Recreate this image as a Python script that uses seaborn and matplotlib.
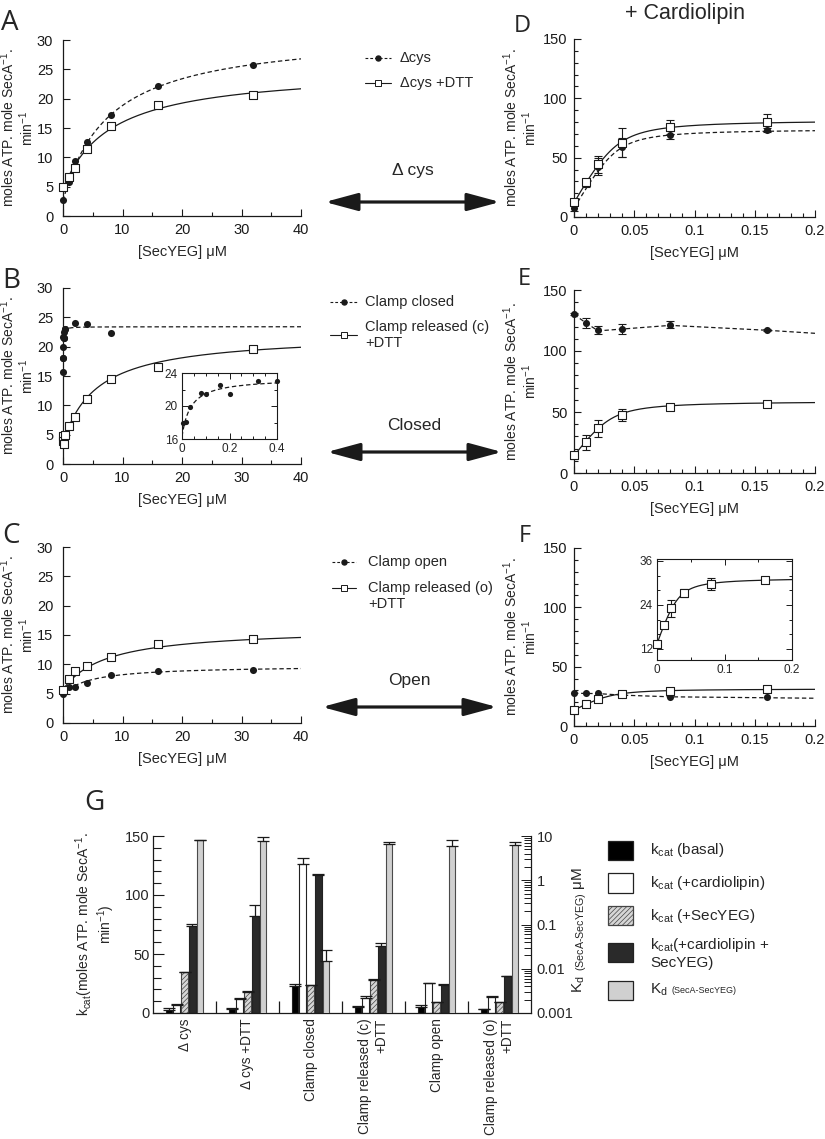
import numpy as np
import pandas as pd
import matplotlib
matplotlib.use("Agg")
import matplotlib.pyplot as plt
import seaborn as sns
from matplotlib.ticker import MultipleLocator, FixedLocator, LogLocator, NullFormatter, FuncFormatter
from matplotlib.patches import FancyArrowPatch, Rectangle, ArrowStyle
from matplotlib.lines import Line2D

# ---------------- data ----------------
# Panel A
a_x = [0, 1, 2, 4, 8, 16, 32]
a_cys_y = [2.7, 5.8, 9.3, 12.6, 17.2, 22.1, 25.8]
a_dtt_y = [5.0, 6.6, 8.2, 11.5, 15.4, 18.9, 20.6]
a_cys_fit = [2.6, 28.9, 7.8]      # v0, amplitude, Km of the hyperbolic fit
a_dtt_fit = [4.6, 20.5, 8.0]

# Panel B
b_closed_x = [0, 0.005, 0.015, 0.035, 0.08, 0.1, 0.16, 0.2, 0.32, 0.4, 2, 4, 8]
b_closed_y = [15.6, 18.0, 18.1, 19.9, 21.6, 21.4, 22.5, 21.4, 23.0, 23.0, 24.1, 23.9, 22.4]
b_rel_x = [0, 0.05, 0.1, 0.4, 1, 2, 4, 8, 16, 32]
b_rel_y = [4.7, 4.0, 3.4, 5.0, 6.4, 8.0, 11.0, 14.5, 16.6, 19.6]
b_closed_fit = [16.3, 7.1, 0.037]
b_rel_fit = [3.6, 18.6, 5.65]

# Panel C
c_x = [0, 1, 2, 4, 8, 16, 32]
c_open_y = [4.9, 6.1, 6.1, 6.8, 8.1, 8.9, 9.0]
c_rel_y = [5.7, 7.5, 8.9, 9.7, 11.2, 13.4, 14.4]
c_open_fit = [4.9, 4.9, 4.7]
c_rel_fit = [5.7, 10.5, 7.3]

# Panel D (+ cardiolipin)
d_x = [0, 0.01, 0.02, 0.04, 0.08, 0.16]
d_cys_y = [7.3, 27.6, 42.3, 58.6, 69.1, 73.3]
d_cys_err = [2, 2, 7, 8, 3, 2]
d_dtt_y = [12.4, 29.6, 44.3, 62.6, 75.8, 79.8]
d_dtt_err = [1, 2, 7, 12, 6, 7]
d_cys_fit = [7.3, 67.0, 0.035, 0.004]   # v0, amplitude, [SecA], Kd (tight binding)
d_dtt_fit = [12.0, 70.0, 0.035, 0.005]

# Panel E
e_x = [0, 0.01, 0.02, 0.04, 0.08, 0.16]
e_closed_y = [130.2, 123.2, 117.2, 118.3, 121.5, 117.2]
e_closed_err = [1, 4, 3, 4, 3, 1]
e_rel_y = [14.4, 25.1, 36.8, 47.7, 53.7, 56.4]
e_rel_err = [3, 6, 7, 5, 1, 2]
e_closed_trace_x = [0, 0.01, 0.02, 0.04, 0.08, 0.16, 0.2]
e_closed_trace_y = [130, 123, 116.5, 118, 121, 117, 114.5]
e_rel_fit = [14.0, 45.0, 0.03, 0.005]

# Panel F
f_x = [0, 0.01, 0.02, 0.04, 0.08, 0.16]
f_open_y = [27.6, 27.6, 27.6, 25.9, 24.2, 24.5]
f_rel_y = [13.4, 18.4, 23.1, 27.2, 29.7, 30.8]
f_rel_err = [0.5, 0.6, 2.3, 1.0, 1.7, 0.9]
f_open_trace_x = [0, 0.02, 0.04, 0.08, 0.16, 0.2]
f_open_trace_y = [27.6, 27.3, 26.0, 24.6, 23.8, 23.4]
f_rel_fit = [13.4, 18.0, 0.03, 0.005]

# Panel G
g_groups = ["\u0394 cys", "\u0394 cys +DTT", "Clamp closed",
            "Clamp released (c)\n+DTT", "Clamp open", "Clamp released (o)\n+DTT"]
series_names = ["basal", "cardiolipin", "SecYEG", "cardiolipin+SecYEG", "Kd"]
kcat_basal = [2.8, 3.7, 22.9, 5.1, 5.1, 3.4]
kcat_basal_err = [1.7, 0.3, 1.4, 1.1, 1.4, 0.3]
kcat_cl = [7.0, 12.0, 126.3, 13.0, 25.5, 13.5]
kcat_cl_err = [0.9, 1.0, 5.3, 1.0, 0.3, 0.6]
kcat_sec = [34.7, 18.0, 23.4, 28.2, 9.3, 9.3]
kcat_sec_err = [0.2, 1.0, 0.2, 0.2, 0.2, 0.2]
kcat_clsec = [73.4, 82.0, 117.2, 56.5, 24.0, 31.4]
kcat_clsec_err = [2.0, 9.8, 0.2, 2.8, 0.3, 0.2]
kd = [7.96, 7.8, 0.0153, 6.5, 5.9, 6.1]
kd_err = [0.35, 1.6, 0.011, 0.7, 2.3, 1.2]

# ---------------- helpers ----------------
def hyper(x, v0, amp, km):
    x = np.asarray(x, float)
    return v0 + amp * x / (km + x)

def tight(x, v0, amp, e, k):
    x = np.asarray(x, float)
    s = e + x + k
    return v0 + amp * (s - np.sqrt(s * s - 4 * e * x)) / (2 * e)

sns.set_theme(style="ticks")
plt.rcParams["font.family"] = ["Liberation Sans", "DejaVu Sans"]
plt.rcParams["mathtext.fontset"] = "custom"
plt.rcParams["mathtext.rm"] = "Liberation Sans"
plt.rcParams["mathtext.it"] = "Liberation Sans:italic"
plt.rcParams["mathtext.bf"] = "Liberation Sans:bold"
plt.rcParams["hatch.linewidth"] = 0.5
plt.rcParams["axes.edgecolor"] = "k"

W, H = 825, 1139
fig = plt.figure(figsize=(W / 100, H / 100), dpi=100)
fig.patch.set_facecolor("white")

def add_ax(x0, y0, x1, y1):
    return fig.add_axes([x0 / W, 1 - y1 / H, (x1 - x0) / W, (y1 - y0) / H])

gfmt = FuncFormatter(lambda v, p: f"{v:g}")
DASH = (0, (3.5, 2.2))
YLAB = "moles ATP. mole SecA$^{-1}$.\nmin$^{-1}$"

def style(ax, xlim, ylim, xmaj, xmin, ymaj, ymin, ypad, labx):
    ax.set_xlim(xlim); ax.set_ylim(ylim)
    ax.spines[["top", "right"]].set_visible(False)
    ax.spines[["left", "bottom"]].set_linewidth(0.9)
    ax.xaxis.set_major_locator(MultipleLocator(xmaj))
    ax.xaxis.set_minor_locator(MultipleLocator(xmin))
    ax.yaxis.set_major_locator(MultipleLocator(ymaj))
    if ymin:
        ax.yaxis.set_minor_locator(MultipleLocator(ymin))
    else:
        ax.yaxis.set_minor_locator(FixedLocator([]))
    ax.xaxis.set_major_formatter(gfmt)
    ax.tick_params(which="both", direction="in", color="k", width=0.8, labelsize=10.5,
                   labelcolor="k", top=False, right=False, bottom=True, left=True)
    ax.tick_params(which="major", length=5)
    ax.tick_params(which="minor", length=3)
    ax.tick_params(axis="y", pad=ypad)
    ax.tick_params(axis="x", pad=5)
    ax.set_facecolor("none")
    ax.set_xlabel("[SecYEG] \u03bcM", fontsize=10.5, labelpad=6)
    ax.set_ylabel(YLAB, fontsize=10, linespacing=1.02)
    ax.yaxis.set_label_coords(labx, 0.5)

def inset_style(ax, xlim, ylim, xmaj, xmin, ymaj, ymin):
    ax.set_xlim(xlim); ax.set_ylim(ylim)
    for s in ax.spines.values():
        s.set_visible(True); s.set_linewidth(0.8); s.set_color("k")
    ax.xaxis.set_major_locator(MultipleLocator(xmaj))
    ax.xaxis.set_minor_locator(MultipleLocator(xmin))
    ax.yaxis.set_major_locator(MultipleLocator(ymaj))
    ax.yaxis.set_minor_locator(MultipleLocator(ymin))
    ax.xaxis.set_major_formatter(gfmt)
    ax.yaxis.set_major_formatter(gfmt)
    ax.tick_params(which="both", direction="in", color="k", width=0.7, labelsize=8.5,
                   top=True, right=True, bottom=True, left=True, pad=3)
    ax.tick_params(which="major", length=4)
    ax.tick_params(which="minor", length=2.5)
    ax.set_facecolor("white")
    ax.set_xlabel(""); ax.set_ylabel("")

def dots(ax, x, y, s=26):
    sns.scatterplot(x=x, y=y, ax=ax, marker="o", s=s, color="k", edgecolor="k",
                    linewidth=0, zorder=4, clip_on=False, legend=False)

def squares(ax, x, y, s=34):
    sns.scatterplot(x=x, y=y, ax=ax, marker="s", s=s, color="white", edgecolor="k",
                    linewidth=0.8, zorder=5, clip_on=False, legend=False)

def curve(ax, x, y, dashed):
    sns.lineplot(x=x, y=y, ax=ax, color="k", linewidth=0.9, linestyle=DASH if dashed else "-",
                 estimator=None, sort=False, errorbar=None, zorder=2, legend=False)

def errs(ax, x, y, e):
    ax.errorbar(x, y, yerr=e, fmt="none", ecolor="k", elinewidth=0.8, capsize=2.8,
                capthick=0.8, zorder=3, clip_on=False)

xa = np.linspace(0, 40, 400)
xb = np.concatenate([np.linspace(0, 0.6, 300), np.linspace(0.6, 40, 300)])
xs = np.linspace(0, 0.2, 400)

LABX_L = -0.115
LABX_R = -0.145

# ---------------- Panel A ----------------
axA = add_ax(63, 40, 301, 216)
curve(axA, xa, hyper(xa, *a_cys_fit), True)
curve(axA, xa, hyper(xa, *a_dtt_fit), False)
dots(axA, a_x, a_cys_y)
squares(axA, a_x, a_dtt_y)
style(axA, (0, 40), (0, 30), 10, 5, 5, None, 7, LABX_L)

# ---------------- Panel B ----------------
axB = add_ax(63, 288, 301, 464)
curve(axB, xb, hyper(xb, *b_closed_fit), True)
curve(axB, xa, hyper(xa, *b_rel_fit), False)
dots(axB, b_closed_x, b_closed_y)
squares(axB, b_rel_x, b_rel_y)
style(axB, (0, 40), (0, 30), 10, 5, 5, None, 7, LABX_L)

axBi = add_ax(182, 373, 277, 439)
xi = np.linspace(0, 0.4, 300)
curve(axBi, xi, hyper(xi, *b_closed_fit), True)
bi = [(x, y) for x, y in zip(b_closed_x, b_closed_y) if x <= 0.4 and y >= 16]
sns.scatterplot(x=[p[0] for p in bi], y=[p[1] for p in bi], ax=axBi, marker="o", s=14,
                color="k", linewidth=0, zorder=4, clip_on=False, legend=False)
inset_style(axBi, (0, 0.4), (16, 24), 0.2, 0.05, 4, 2)

# ---------------- Panel C ----------------
axC = add_ax(63, 547, 301, 723)
curve(axC, xa, hyper(xa, *c_open_fit), True)
curve(axC, xa, hyper(xa, *c_rel_fit), False)
dots(axC, c_x, c_open_y)
squares(axC, c_x, c_rel_y)
style(axC, (0, 40), (0, 30), 10, 5, 5, None, 7, LABX_L)

# ---------------- Panel D ----------------
axD = add_ax(574, 39, 815, 217)
curve(axD, xs, tight(xs, *d_cys_fit), True)
curve(axD, xs, tight(xs, *d_dtt_fit), False)
errs(axD, d_x, d_cys_y, d_cys_err)
errs(axD, d_x, d_dtt_y, d_dtt_err)
dots(axD, d_x, d_cys_y)
squares(axD, d_x, d_dtt_y)
style(axD, (0, 0.2), (0, 150), 0.05, 0.01, 50, 10, 4.5, LABX_R)

# ---------------- Panel E ----------------
axE = add_ax(574, 290, 815, 473)
curve(axE, e_closed_trace_x, e_closed_trace_y, True)
curve(axE, xs, tight(xs, *e_rel_fit), False)
errs(axE, e_x, e_closed_y, e_closed_err)
errs(axE, e_x, e_rel_y, e_rel_err)
dots(axE, e_x, e_closed_y)
squares(axE, e_x, e_rel_y)
style(axE, (0, 0.2), (0, 150), 0.05, 0.01, 50, 10, 4.5, LABX_R)

# ---------------- Panel F ----------------
axF = add_ax(574, 548, 815, 726)
curve(axF, f_open_trace_x, f_open_trace_y, True)
curve(axF, xs, tight(xs, *f_rel_fit), False)
errs(axF, f_x, f_rel_y, f_rel_err)
dots(axF, f_x, f_open_y)
squares(axF, f_x, f_rel_y)
style(axF, (0, 0.2), (0, 150), 0.05, 0.01, 50, 10, 4.5, LABX_R)

axFi = add_ax(657, 559, 792, 660)
curve(axFi, xs, tight(xs, *f_rel_fit), False)
errs(axFi, f_x, f_rel_y, f_rel_err)
squares(axFi, f_x, f_rel_y, s=30)
inset_style(axFi, (0, 0.2), (9, 36.5), 0.1, 0.05, 12, 4)

# ---------------- Panel G ----------------
axG = add_ax(153, 836, 531, 1013)
pal = {"basal": "#000000", "cardiolipin": "#ffffff", "SecYEG": "#d6d6d6",
       "cardiolipin+SecYEG": "#2a2a2a", "Kd": "#d0d0d0"}
kc_df = pd.DataFrame({
    "group": g_groups * 4,
    "series": np.repeat(series_names[:4], len(g_groups)),
    "value": kcat_basal + kcat_cl + kcat_sec + kcat_clsec,
})
sns.barplot(data=kc_df, x="group", y="value", hue="series", order=g_groups,
            hue_order=series_names, palette=pal, width=0.62, gap=0.14, errorbar=None,
            saturation=1, dodge=True, legend=False, ax=axG)
axG.set_ylim(0, 150)
axG.set_xlim(-0.5, len(g_groups) - 0.5)

ax2 = axG.twinx()
ax2.set_yscale("log")
ax2.set_ylim(0.001, 10)
kd_df = pd.DataFrame({"group": g_groups, "series": ["Kd"] * len(g_groups), "value": kd})
sns.barplot(data=kd_df, x="group", y="value", hue="series", order=g_groups,
            hue_order=series_names, palette=pal, width=0.62, gap=0.14, errorbar=None,
            saturation=1, dodge=True, legend=False, ax=ax2)
ax2.set_ylim(0.001, 10)
axG.set_xlim(-0.5, len(g_groups) - 0.5)

conts = [c for c in axG.containers if len(c.patches)]
kcat_vals = [kcat_basal, kcat_cl, kcat_sec, kcat_clsec]
kcat_errs = [kcat_basal_err, kcat_cl_err, kcat_sec_err, kcat_clsec_err]
for name, cont, vals, ers in zip(series_names[:4], conts, kcat_vals, kcat_errs):
    cx = []
    for p in cont.patches:
        p.set_edgecolor("#222222")
        p.set_linewidth(0.8)
        if name == "SecYEG":
            p.set_hatch("///////")
            p.set_edgecolor("#444444")
        cx.append(p.get_x() + p.get_width() / 2)
    axG.errorbar(cx, vals, yerr=[np.zeros(len(ers)), ers], fmt="none", ecolor="k",
                 elinewidth=0.9, capsize=4.6, capthick=0.9, zorder=5)

kconts = [c for c in ax2.containers if len(c.patches)]
cx = []
for p in kconts[0].patches:
    p.set_edgecolor("#4a4a4a")
    p.set_linewidth(0.8)
    if hasattr(p, "set_hatchcolor"):
        p.set_hatch("|||||")
        p.set_hatchcolor("#bdbdbd")
    cx.append(p.get_x() + p.get_width() / 2)
ax2.errorbar(cx, kd, yerr=[np.zeros(len(kd_err)), kd_err], fmt="none", ecolor="k",
             elinewidth=0.9, capsize=4.6, capthick=0.9, zorder=5)

axG.spines[["top", "right"]].set_visible(False)
axG.spines[["left", "bottom"]].set_linewidth(0.9)
ax2.spines[["top", "left", "bottom"]].set_visible(False)
ax2.spines["right"].set_linewidth(0.9)
axG.yaxis.set_major_locator(MultipleLocator(50))
axG.yaxis.set_minor_locator(MultipleLocator(10))
axG.tick_params(axis="y", which="both", direction="in", left=True, color="k", width=0.8,
                labelsize=10.5, pad=2.5)
axG.tick_params(axis="y", which="major", length=8)
axG.tick_params(axis="y", which="minor", length=6)
axG.xaxis.set_minor_locator(FixedLocator([i + 0.5 for i in range(len(g_groups) - 1)]))
axG.tick_params(axis="x", which="major", length=0, pad=4, labelsize=9.8, bottom=True)
axG.tick_params(axis="x", which="minor", direction="in", length=9, width=0.9, bottom=True, color="k")
axG.set_xticks(range(len(g_groups)))
axG.set_xticklabels(g_groups, rotation=90, ha="center", va="top", multialignment="right")
axG.set_xlabel("")
axG.set_ylabel(r"$\mathregular{k_{cat}}$(moles ATP. mole SecA$^{-1}$." + "\n" + "min$^{-1}$)",
               fontsize=10, linespacing=1.02)
axG.yaxis.set_label_coords(-0.095, 0.5)
axG.set_facecolor("none")

ax2.yaxis.set_major_locator(LogLocator(base=10, numticks=10))
ax2.yaxis.set_minor_locator(LogLocator(base=10, subs=np.arange(2, 10), numticks=20))
ax2.yaxis.set_major_formatter(gfmt)
ax2.yaxis.set_minor_formatter(NullFormatter())
ax2.tick_params(axis="y", which="both", direction="in", right=True, color="k", width=0.7,
                labelsize=10.5, pad=4)
ax2.tick_params(axis="y", which="major", length=7)
ax2.tick_params(axis="y", which="minor", length=5)
ax2.set_xlabel("")
ax2.set_ylabel("$\\mathregular{K_{d\\ \\ (SecA\u2010SecYEG)}}$ \u03bcM", fontsize=11)
ax2.yaxis.set_label_coords(1.105, 0.47)

# ---------------- G legend ----------------
leg_rows = [(841, 860, 850, "basal"), (873, 893, 883, "cardiolipin"), (906, 925, 916, "SecYEG"),
            (943, 962, 953, "cardiolipin+SecYEG"), (981, 1000, 990, "Kd")]
leg_text = [r"$\mathregular{k_{cat}}$ (basal)", r"$\mathregular{k_{cat}}$ (+cardiolipin)",
            r"$\mathregular{k_{cat}}$ (+SecYEG)",
            r"$\mathregular{k_{cat}}$(+cardiolipin +" + "\nSecYEG)", r"$\mathregular{K_d}$"]
for (y0, y1, yc, name), txt in zip(leg_rows, leg_text):
    r = Rectangle((608 / W, 1 - y1 / H), 25 / W, (y1 - y0) / H, transform=fig.transFigure,
                  facecolor=pal[name], edgecolor="#222222", linewidth=0.9)
    if name == "SecYEG":
        r.set_hatch("///////"); r.set_edgecolor("#444444")
    if name == "Kd" and hasattr(r, "set_hatchcolor"):
        r.set_hatch("|||||"); r.set_hatchcolor("#bdbdbd")
    fig.add_artist(r)
    fig.text(650 / W, 1 - yc / H, txt, fontsize=11, va="center", ha="left", linespacing=1.15)
fig.text(672 / W, 1 - 993 / H, "(SecA-SecYEG)", fontsize=6.5, va="baseline", ha="left")

# ---------------- middle column: legends & arrows ----------------
def legend_entry(y, x0, x1, tx, label, dashed, ty=None):
    yy = 1 - y / H
    fig.add_artist(Line2D([x0 / W, x1 / W], [yy, yy], transform=fig.transFigure, color="k",
                          lw=0.8, linestyle=(0, (2.5, 1.8)) if dashed else "-"))
    if dashed:
        fig.add_artist(Line2D([(x0 + x1) / 2 / W], [yy], transform=fig.transFigure, marker="o",
                              ms=3.6, color="k", lw=0))
    else:
        fig.add_artist(Line2D([(x0 + x1) / 2 / W], [yy], transform=fig.transFigure, marker="s",
                              ms=4.2, mfc="white", mec="k", mew=0.7, lw=0))
    fig.text(tx / W, 1 - (ty if ty else y) / H, label, fontsize=10.5, va="center", ha="left",
             linespacing=1.2)

legend_entry(58, 365, 391, 400, "\u0394cys", True)
legend_entry(83, 365, 391, 400, "\u0394cys +DTT", False)
legend_entry(302, 330, 357, 365, "Clamp closed", True)
legend_entry(335, 330, 357, 365, "Clamp released (c)\n+DTT", False, 335)
legend_entry(562, 332, 356, 368, "Clamp open", True)
legend_entry(588, 332, 356, 368, "Clamp released (o)\n+DTT", False, 596)

def darrow(y, x0, x1, label, ly):
    arr = FancyArrowPatch((x0 / W, 1 - y / H), (x1 / W, 1 - y / H), transform=fig.transFigure,
                          arrowstyle=ArrowStyle("<|-|>", head_length=20, head_width=5.4),
                          mutation_scale=1, lw=2.3, color="k", shrinkA=0, shrinkB=0)
    fig.add_artist(arr)
    fig.text((x0 + x1) / 2 / W, 1 - ly / H, label, fontsize=12.5, ha="center", va="center")

darrow(202, 325, 500, "\u0394 cys", 171)
darrow(452, 327, 502, "Closed", 425)
darrow(707, 322, 497, "Open", 680)

# ---------------- titles & panel letters ----------------
fig.text(685 / W, 1 - 19 / H, "+ Cardiolipin", fontsize=15.5, ha="center", va="baseline")
for letter, x, yb, fs in [("A", 1, 30, 20), ("B", 2, 288, 20), ("C", 2, 543, 20), ("D", 514, 32, 17),
                          ("E", 518, 285, 17), ("F", 519, 542, 17), ("G", 84, 810, 20)]:
    fig.text(x / W, 1 - yb / H, letter, fontsize=fs, family=["Open Sans", "DejaVu Sans"],
             ha="left", va="baseline")

fig.savefig("out.png", dpi=100, facecolor="white")
